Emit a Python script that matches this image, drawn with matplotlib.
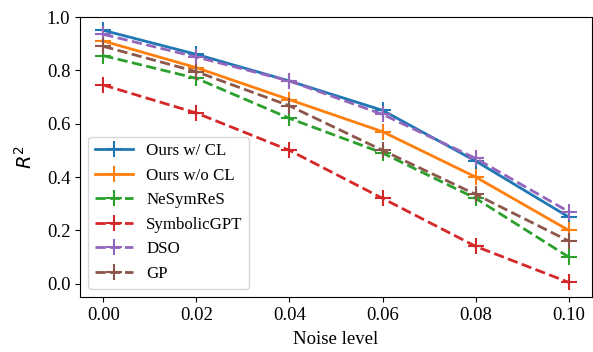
import matplotlib
matplotlib.use("Agg")
import matplotlib.pyplot as plt

noise = [0.00, 0.02, 0.04, 0.06, 0.08, 0.10]
ours_cl = [0.95, 0.86, 0.76, 0.65, 0.46, 0.25]
ours_nocl = [0.91, 0.81, 0.69, 0.57, 0.40, 0.20]
nesymres = [0.855, 0.77, 0.62, 0.49, 0.32, 0.10]
symbolicgpt = [0.745, 0.64, 0.50, 0.32, 0.14, 0.005]
dso = [0.935, 0.85, 0.76, 0.635, 0.47, 0.27]
gp = [0.89, 0.795, 0.667, 0.50, 0.335, 0.16]

labels = ["Ours w/ CL", "Ours w/o CL", "NeSymReS", "SymbolicGPT", "DSO", "GP"]
series = [ours_cl, ours_nocl, nesymres, symbolicgpt, dso, gp]
styles = ["-", "-", "--", "--", "--", "--"]
colors = ["#1f77b4", "#ff7f0e", "#2ca02c", "#d62728", "#9467bd", "#8c564b"]

plt.rcParams['font.family'] = ['Liberation Serif', 'DejaVu Serif']
plt.rcParams['mathtext.fontset'] = 'dejavusans'

fig = plt.figure(figsize=(5.93, 3.52), dpi=100)
ax = fig.add_axes([80/593, 1 - 297/352, (592-80)/593, (297-17)/352])
for y, lab, ls, c in zip(series, labels, styles, colors):
    ax.plot(noise, y, ls, color=c, marker='+', markersize=12, linewidth=2,
            markeredgewidth=1.5, label=lab)
ax.set_ylim(-0.05, 1.0)
ax.set_xticks(noise)
ax.set_xticklabels([f"{v:.2f}" for v in noise])
ax.set_yticks([0.0, 0.2, 0.4, 0.6, 0.8, 1.0])
ax.tick_params(labelsize=13.5)
ax.set_xlabel("Noise level", fontsize=13.5, labelpad=5)
ax.set_ylabel("$R^2$", fontsize=14, family='DejaVu Sans', labelpad=8)
ax.legend(loc='lower left', fontsize=12.2, handlelength=2.2, borderaxespad=0.5)
fig.savefig("out.png", dpi=100)
